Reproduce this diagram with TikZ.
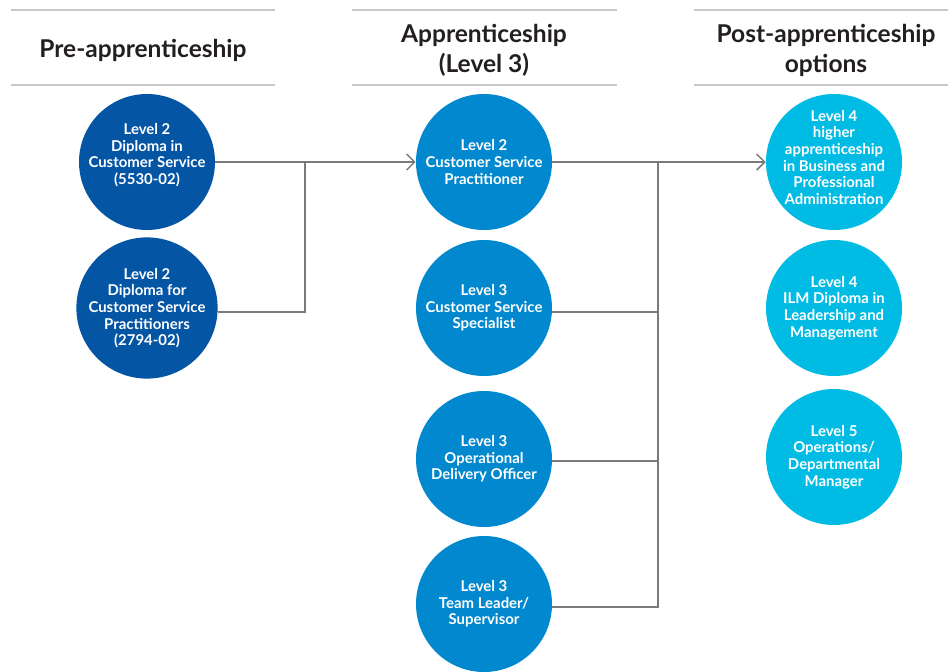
\documentclass[tikz,border=0pt]{standalone}
\usepackage{fontspec}
\setmainfont{Lato}
\usetikzlibrary{arrows.meta}
\definecolor{dkblue}{HTML}{0455A4}
\definecolor{mdblue}{HTML}{0288CE}
\definecolor{ltblue}{HTML}{00BCE4}
\definecolor{conn}{HTML}{7A7A7A}
\definecolor{rule}{HTML}{C8C8C8}
\definecolor{titletext}{HTML}{231F20}
\tikzset{
  circ/.style={circle, minimum size=136*0.75pt, inner sep=0pt, text=white, align=center,
    font=\fontsize{11.2pt}{12.5pt}\selectfont\bfseries},
  c1/.style={circ, fill=dkblue},
  c2/.style={circ, fill=mdblue},
  c3/.style={circ, fill=ltblue},
  ctext/.style={text=white, align=center, inner sep=0pt,
    font=\fontsize{11.2pt}{12.5pt}\selectfont\bfseries},
  hdr/.style={align=center, text=titletext, font=\fontsize{18.4pt}{22.5pt}\selectfont\bfseries},
  hrule/.style={draw=rule, line width=1.2pt},
  cn/.style={draw=conn, line width=1.1pt},
  arr/.style={cn, -{Straight Barb[length=6pt, width=12pt, line width=1.1pt]}},
}
\begin{document}
\begin{tikzpicture}[x=0.75pt, y=-0.75pt]
\useasboundingbox (0,0) rectangle (948,671);
% header rules
\draw[hrule] (11,10) -- (275,10); \draw[hrule] (11,85) -- (275,85);
\draw[hrule] (352,10) -- (617,10); \draw[hrule] (352,85) -- (617,85);
\draw[hrule] (694,10) -- (948,10); \draw[hrule] (694,85) -- (948,85);
% headers
\node[hdr] (h1) at (143,50) {Pre-apprenticeship};
\node[hdr] (h2) at (484,50) {Apprenticeship\\(Level 3)};
\node[hdr] (h3) at (826,50) {Post-apprenticeship\\options};
% circles
\node[c1] (a1) at (147,162) {};
\node[ctext] (a1t) at (147,155) {Level 2\\Diploma in\\Customer Service\\(5530-02)};
\node[c1] (a2) at (147,308) {Level 2\\Diploma for\\Customer Service\\Practitioners\\(2794-02)};
\node[c2] (b1) at (484,162) {Level 2\\Customer Service\\Practitioner};
\node[c2] (b2) at (484,308) {Level 3\\Customer Service\\Specialist};
\node[c2] (b3) at (484,459) {Level 3\\Operational\\Delivery Officer};
\node[c2] (b4) at (484,604) {Level 3\\Team Leader/\\Supervisor};
\node[c3] (d1) at (834,162) {};
\node[ctext] (d1t) at (834,157.5) {Level 4\\higher\\apprenticeship\\in Business and\\Professional\\Administration};
\node[c3] (d2) at (834,308) {Level 4\\ILM Diploma in\\Leadership and\\Management};
\node[c3] (d3) at (834,457) {Level 5\\Operations/\\Departmental\\Manager};
% connector junctions
\coordinate (j1t) at (305,162);
\coordinate (j1b) at (305,312);
\coordinate (j2t) at (658,162);
\coordinate (j2b) at (658,607);
% connectors left
\draw[cn] (a1.east) -- (j1t) -- (j1b) -- (a2.east |- j1b);
\draw[arr] (j1t) -- (b1.west);
% connectors middle
\draw[cn] (b1.east) -- (j2t) -- (j2b) -- (b4.east |- j2b);
\draw[cn] (b2.east |- 0,312) -- (658,312);
\draw[cn] (b3.east |- 0,461) -- (658,461);
\draw[arr] (j2t) -- (d1.west);
\end{tikzpicture}
\end{document}
